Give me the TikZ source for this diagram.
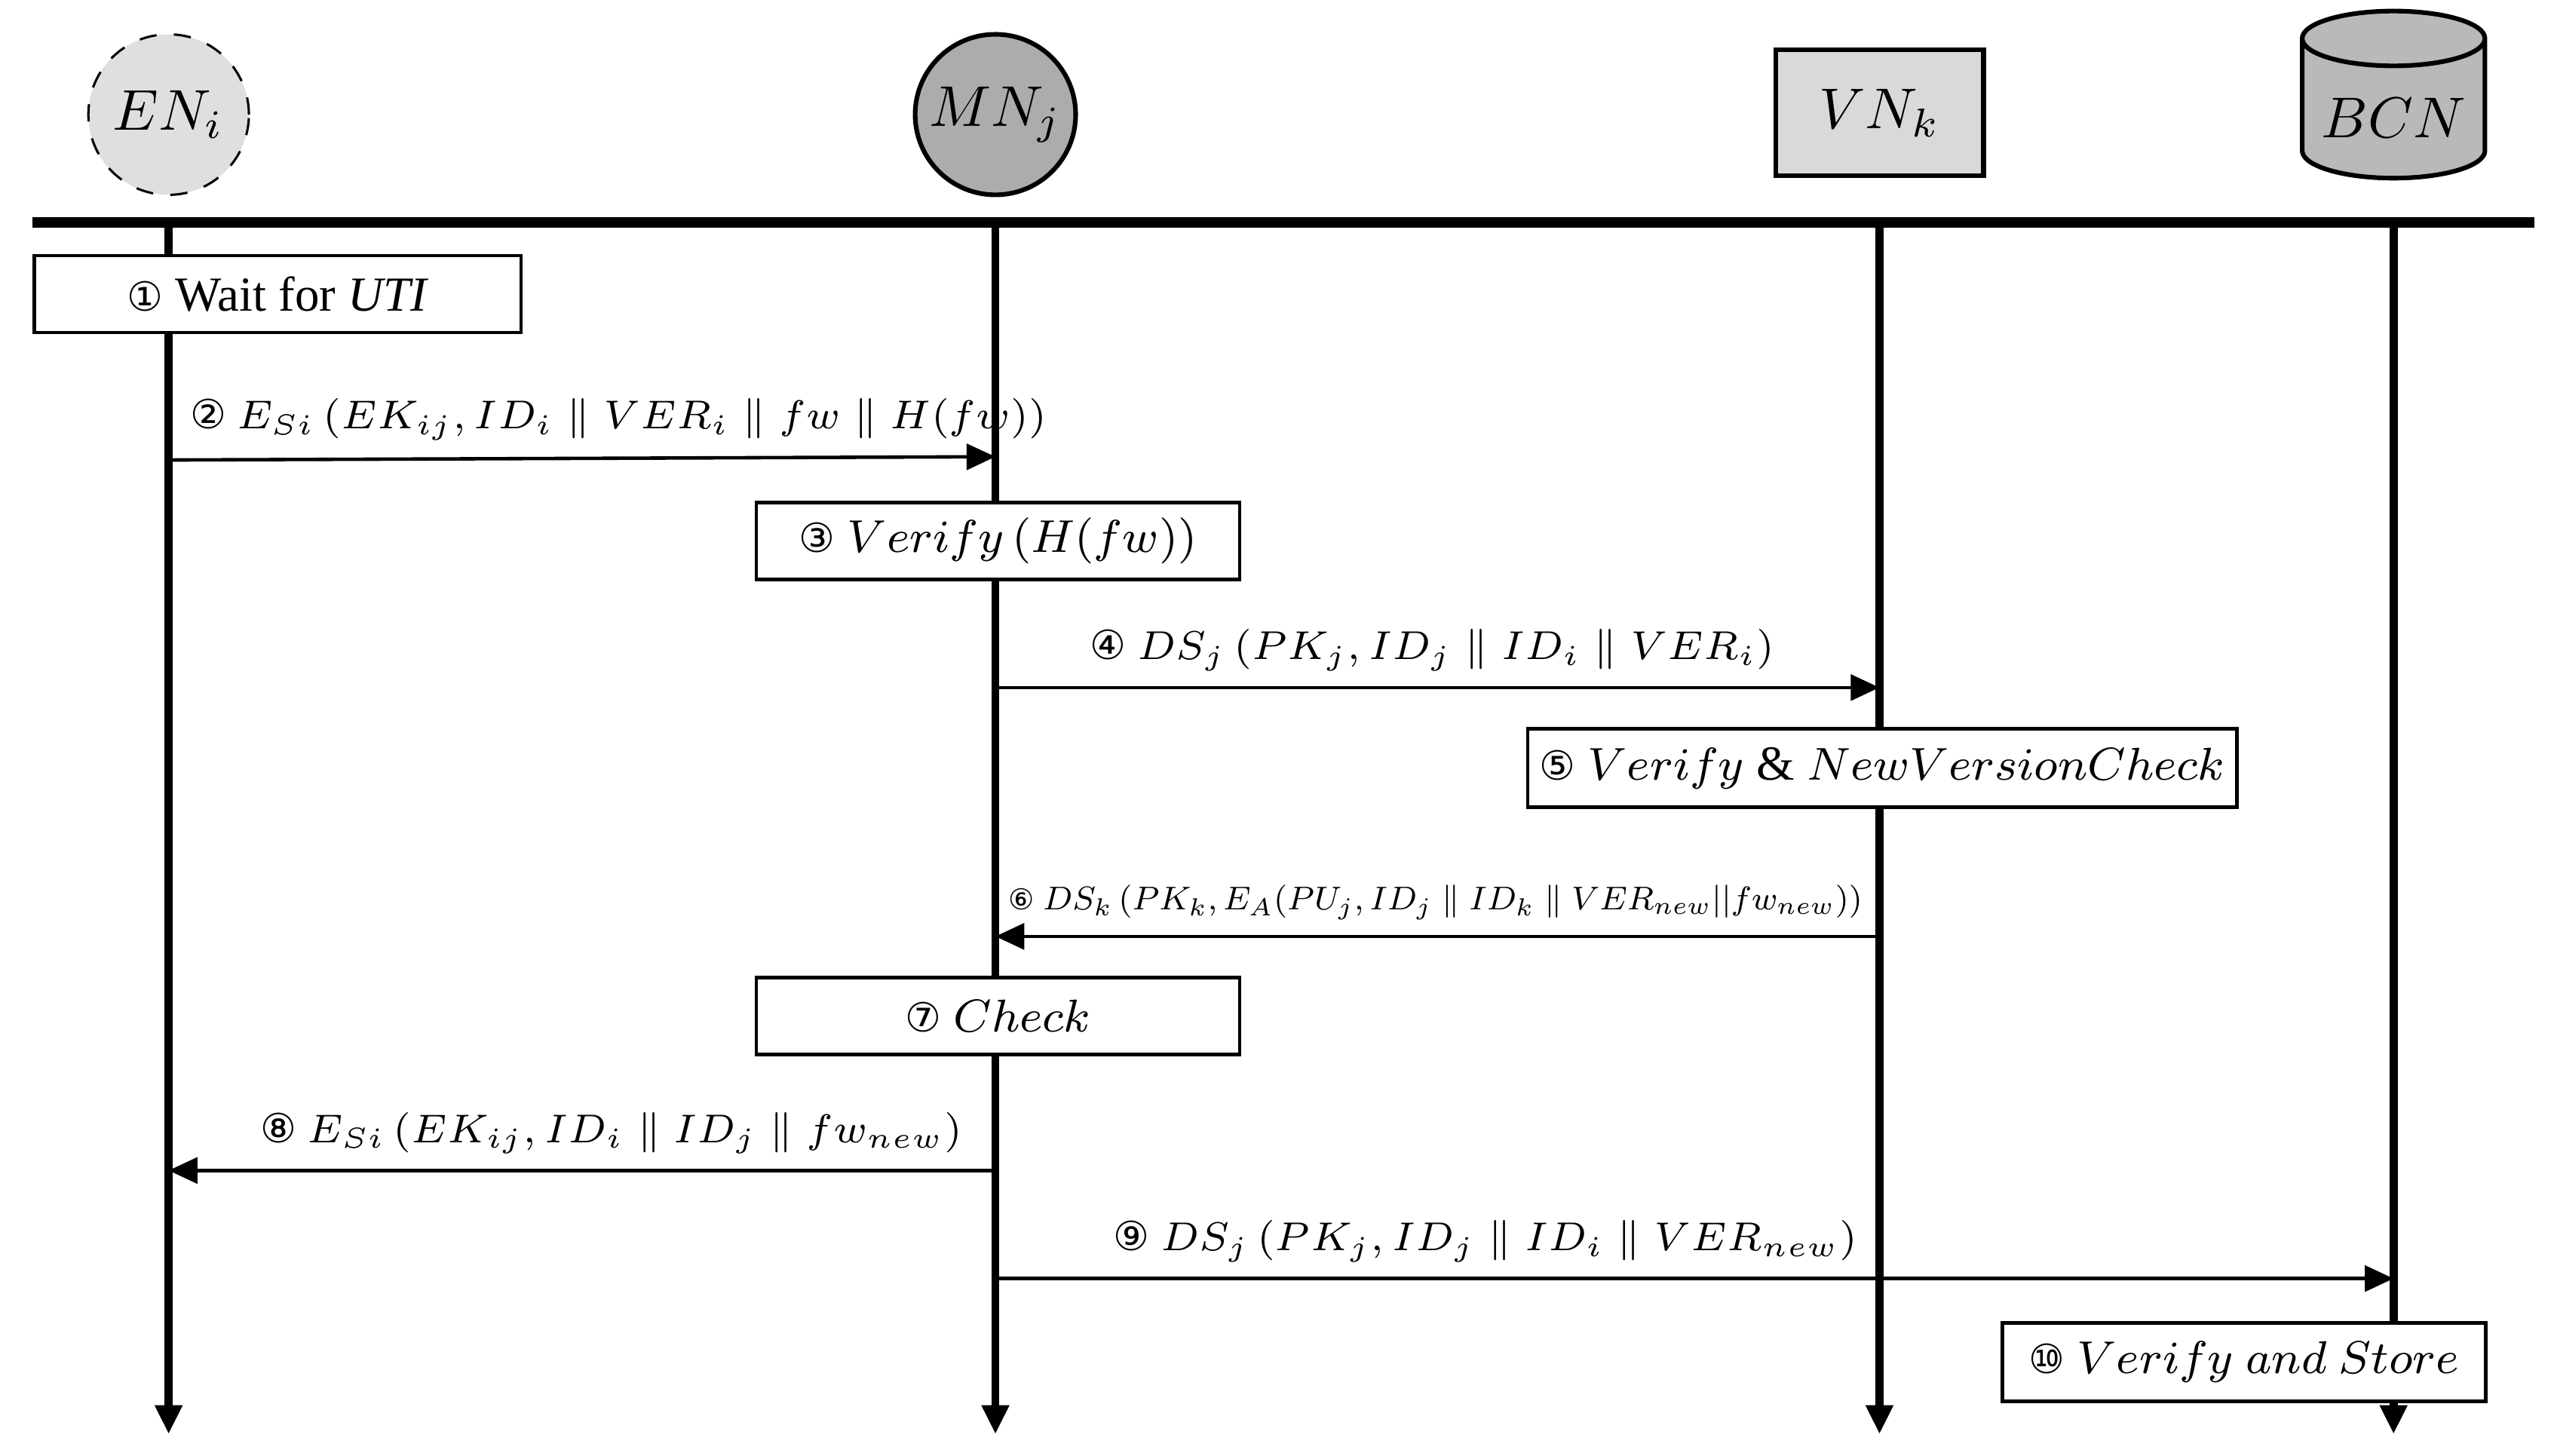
\documentclass[tikz,border=0pt]{standalone}
\usepackage{fontspec}
\setmainfont{Liberation Serif}
\newfontfamily\circfont{DejaVu Sans}
\usetikzlibrary{arrows.meta,shapes.geometric}
\newcommand{\cn}[1]{{\circfont\fontsize{7}{9}\selectfont #1}}
\begin{document}
\begin{tikzpicture}[x=0.01cm,y=-0.01cm,
  every node/.style={font=\fontsize{8.5}{10}\selectfont},
  life/.style={line width=1.4pt,-{Triangle[length=5pt,width=4.5pt]}},
  msg/.style={line width=0.6pt,-{Triangle[length=5pt,width=4.5pt]}},
  lab/.style={font=\fontsize{7.5}{9}\selectfont,inner sep=1pt},
  stepbox/.style={draw,line width=0.6pt,fill=white,inner sep=0pt,anchor=north west}]
\useasboundingbox (0,0) rectangle (1560,889);
\node[circle,draw,dashed,fill=gray!25,minimum size=0.98cm,inner sep=0pt] (en) at (103,70) {\fontsize{10}{12}\selectfont $EN_i$};
\node[circle,draw,line width=0.8pt,fill=gray!65,minimum size=0.98cm,inner sep=0pt] (mn) at (608,70) {\fontsize{10}{12}\selectfont $MN_j$};
\node[draw,line width=0.8pt,fill=gray!30,minimum width=1.27cm,minimum height=0.77cm] (vn) at (1148,69) {\fontsize{10}{12}\selectfont $VN_k$};
\node[cylinder,shape border rotate=90,draw,line width=0.8pt,fill=gray!55,minimum width=1.05cm,minimum height=1.02cm,aspect=0.3] (bcn) at (1462,72) {\fontsize{10}{12}\selectfont $BCN$};
\coordinate (hl) at (20,136); \coordinate (hr) at (1548,136);
\draw[line width=1.8pt] (hl) -- (hr);
\foreach \n/\x in {a/103,b/608,c/1148,d/1462}{
  \coordinate (\n t) at (\x,136); \coordinate (\n b) at (\x,876);
  \draw[life] (\n t) -- (\n b);}
\node[stepbox,minimum width=2.97cm,minimum height=0.47cm] (s1) at (20,155) {\cn{①} Wait for \textit{UTI}};
\coordinate (m2a) at (103,281); \coordinate (m2b) at (608,279);
\draw[msg] (m2a) -- (m2b);
\node[lab,anchor=south west] (l2) at (112,273) {\cn{②} $E_{Si}\left(EK_{ij},ID_i \parallel VER_i \parallel fw \parallel H(fw)\right)$};
\node[stepbox,minimum width=2.95cm,minimum height=0.47cm] (s3) at (461,306) {\cn{③} $Verify\left(H(fw)\right)$};
\coordinate (m4a) at (608,420); \coordinate (m4b) at (1148,420);
\draw[msg] (m4a) -- (m4b);
\node[lab,anchor=south] (l4) at (875,414) {\cn{④} $DS_j\left(PK_j,ID_j \parallel ID_i \parallel VER_i\right)$};
\node[stepbox,minimum width=4.33cm,minimum height=0.48cm] (s5) at (932,444) {\cn{⑤} $Verify\ \&\ NewVersionCheck$};
\coordinate (m6a) at (1148,572); \coordinate (m6b) at (608,572);
\draw[msg] (m6a) -- (m6b);
\node[lab,anchor=south west] (l6) at (612,566) {\scalebox{0.715}{\fontsize{8}{10}\selectfont\cn{⑥} $DS_k\left(PK_k,E_A(PU_j,ID_j \parallel ID_k \parallel VER_{new} || fw_{new})\right)$}};
\node[stepbox,minimum width=2.95cm,minimum height=0.47cm] (s7) at (461,596) {\cn{⑦} $Check$};
\coordinate (m8a) at (608,715); \coordinate (m8b) at (103,715);
\draw[msg] (m8a) -- (m8b);
\node[lab,anchor=south west] (l8) at (155,709) {\cn{⑧} $E_{Si}\left(EK_{ij},ID_i \parallel ID_j \parallel fw_{new}\right)$};
\coordinate (m9a) at (608,781); \coordinate (m9b) at (1462,781);
\draw[msg] (m9a) -- (m9b);
\node[lab,anchor=south west] (l9) at (676,775) {\cn{⑨} $DS_j\left(PK_j,ID_j \parallel ID_i \parallel VER_{new}\right)$};
\node[stepbox,minimum width=2.95cm,minimum height=0.48cm] (s10) at (1222,807) {\cn{⑩} $Verify\ and\ Store$};
\end{tikzpicture}
\end{document}
